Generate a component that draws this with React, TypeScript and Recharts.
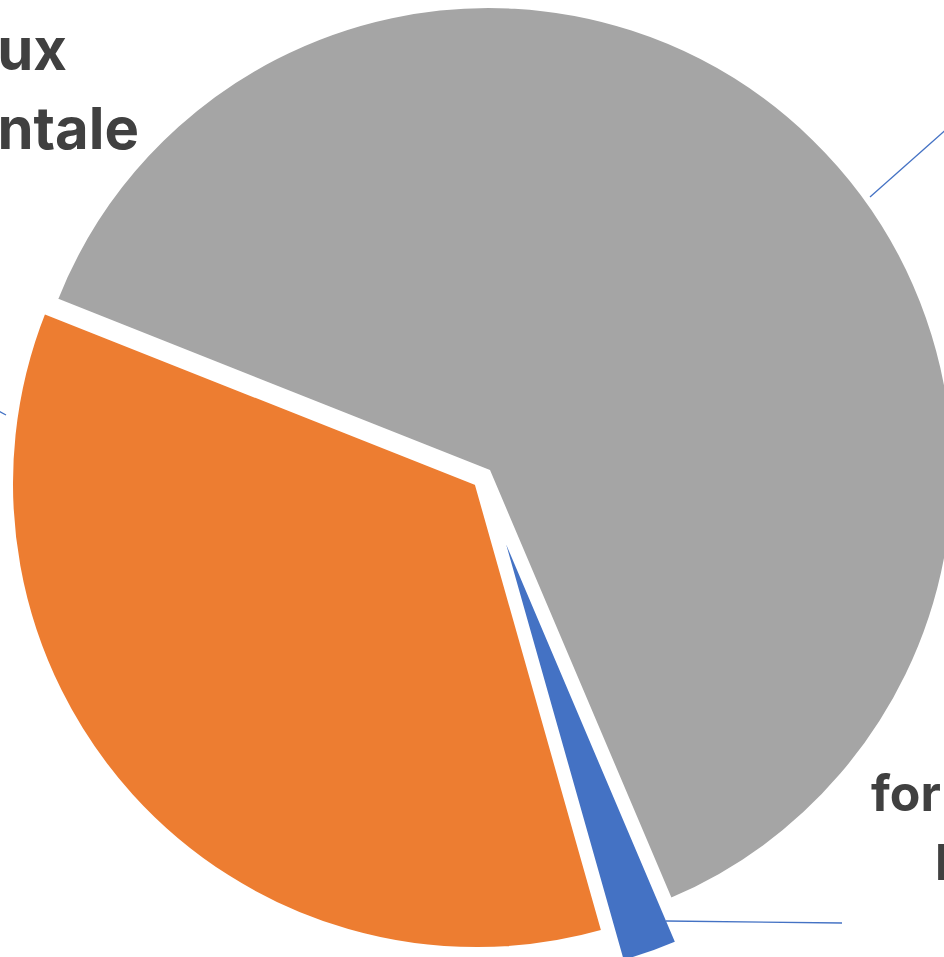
import { PieChart, Pie, Cell } from 'recharts'

// slices in clockwise order, starting from the blue one
const categories = ['for research\nlabs', 'Travaux\nfondamentale', 'Recherche\nappliquée']
const values = [2.0, 35.4, 62.6]
const colors = ['#4472C4', '#ED7D31', '#A5A5A5']

const data = categories.map((name, i) => ({ name, value: values[i] }))

const WIDTH = 944
const HEIGHT = 957
const RADIUS = 465.6
const START_ANGLE = 293
// each slice is pulled out of the pie by its own amount (exploded pie)
const sliceCenters = [
  { x: 495.5, y: 514.2 },
  { x: 476.6, y: 483.5 },
  { x: 488.5, y: 471.6 },
]

// leader line points and text lines, one entry per slice
const labelLayout = [
  {
    lead: [666, 921, 842, 923],
    lines: [
      { x: 871, y: 811 },
      { x: 935, y: 880 },
    ],
    anchor: 'start',
    size: 50,
  },
  {
    lead: [6, 415, -60, 379],
    lines: [
      { x: 67, y: 70 },
      { x: 139, y: 149 },
    ],
    anchor: 'end',
    size: 58,
  },
  {
    lead: [870, 197, 1010, 73],
    lines: [
      { x: 1040, y: 40 },
      { x: 1040, y: 110 },
    ],
    anchor: 'start',
    size: 58,
  },
]

function makeLabel(slice: number) {
  // eslint-disable-next-line @typescript-eslint/no-explicit-any
  return (props: any) => {
    if (props.index !== slice) return null
    const layout = labelLayout[slice]
    const [x1, y1, x2, y2] = layout.lead
    const lines = String(props.name).split('\n')
    return (
      <g>
        <line x1={x1} y1={y1} x2={x2} y2={y2} stroke="#4472C4" strokeWidth={1.3} />
        <text
          textAnchor={layout.anchor}
          fill="#404040"
          fontFamily="Inter, Lato, sans-serif"
          fontWeight={700}
          fontSize={layout.size}
        >
          {lines.map((line, i) => (
            <tspan key={i} x={layout.lines[i].x} y={layout.lines[i].y}>
              {line}
            </tspan>
          ))}
        </text>
      </g>
    )
  }
}

export default function App() {
  return (
    <div
      style={{
        position: 'absolute',
        left: 0,
        top: 0,
        width: WIDTH,
        height: HEIGHT,
        overflow: 'hidden',
        background: '#fff',
      }}
    >
      <PieChart width={WIDTH} height={HEIGHT} margin={{ top: 0, right: 0, bottom: 0, left: 0 }}>
        {sliceCenters.map((c, slice) => (
          <Pie
            key={slice}
            data={data}
            dataKey="value"
            nameKey="name"
            cx={c.x}
            cy={c.y}
            outerRadius={RADIUS}
            startAngle={START_ANGLE}
            endAngle={START_ANGLE - 360}
            stroke="#fff"
            strokeWidth={4}
            label={makeLabel(slice)}
            labelLine={false}
            isAnimationActive={false}
          >
            {data.map((_, i) => (
              <Cell
                key={i}
                fill={i === slice ? colors[i] : 'transparent'}
                stroke={i === slice ? '#fff' : 'none'}
              />
            ))}
          </Pie>
        ))}
      </PieChart>
    </div>
  )
}
